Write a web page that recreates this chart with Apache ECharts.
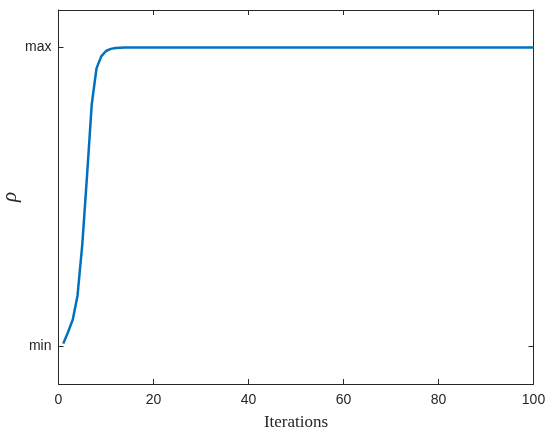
<!DOCTYPE html>
<html>
<head>
<meta charset="utf-8">
<script src="https://cdn.jsdelivr.net/npm/echarts@6/dist/echarts.min.js"></script>
<style>html,body{margin:0;padding:0;background:#fff}#c{width:550px;height:434px}</style>
</head>
<body>
<div id="c"></div>
<script>
const iterations = [];
for (let i = 1; i <= 100; i++) iterations.push(i);
const rho = [
  0.010, 0.048, 0.090, 0.170, 0.340, 0.570, 0.810, 0.930, 0.970, 0.988,
  0.995, 0.998, 0.999, 1.000, 1.000, 1.000, 1.000, 1.000, 1.000, 1.000,
  1, 1, 1, 1, 1, 1, 1, 1, 1, 1,
  1, 1, 1, 1, 1, 1, 1, 1, 1, 1,
  1, 1, 1, 1, 1, 1, 1, 1, 1, 1,
  1, 1, 1, 1, 1, 1, 1, 1, 1, 1,
  1, 1, 1, 1, 1, 1, 1, 1, 1, 1,
  1, 1, 1, 1, 1, 1, 1, 1, 1, 1,
  1, 1, 1, 1, 1, 1, 1, 1, 1, 1,
  1, 1, 1, 1, 1, 1, 1, 1, 1, 1
];
const xTicks = [0, 20, 40, 60, 80, 100];
const yTickValues = [0, 1];
const yTickLabels = ['min', 'max'];

const axisColor = '#262626';
const chart = echarts.init(document.getElementById('c'), null, {renderer: 'canvas'});
const baseX = {
  type: 'value', min: 0, max: 100, interval: 20,
  axisLine: {show: true, onZero: false, lineStyle: {color: axisColor, width: 1}},
  axisTick: {show: true, inside: true, length: 5, lineStyle: {color: axisColor}},
  splitLine: {show: false}
};
const baseY = {
  type: 'value', min: -0.125, max: 1.125,
  axisLine: {show: true, onZero: false, lineStyle: {color: axisColor, width: 1}},
  axisTick: {show: true, inside: true, length: 5, customValues: yTickValues, lineStyle: {color: axisColor}},
  splitLine: {show: false}
};
chart.setOption({
  animation: false,
  grid: {left: 58.5, top: 10, right: 16.5, bottom: 50, containLabel: false, outerBoundsMode: 'none'},
  xAxis: [
    Object.assign({}, baseX, {
      position: 'bottom',
      name: 'Iterations', nameLocation: 'middle', nameGap: 30, nameMoveOverlap: false,
      nameTextStyle: {fontFamily: 'Liberation Serif', fontSize: 17, color: axisColor},
      axisLabel: {show: true, margin: 9, fontFamily: 'Liberation Sans', fontSize: 14, color: axisColor,
        customValues: xTicks}
    }),
    Object.assign({}, baseX, {position: 'top', axisLabel: {show: false}})
  ],
  yAxis: [
    Object.assign({}, baseY, {
      position: 'left',
      name: 'ρ', nameLocation: 'middle', nameGap: 38, nameRotate: 90, nameMoveOverlap: false,
      nameTextStyle: {fontFamily: 'Liberation Serif', fontStyle: 'italic', fontSize: 21, color: axisColor},
      axisLabel: {show: true, margin: 7, fontFamily: 'Liberation Sans', fontSize: 14, color: axisColor,
        customValues: yTickValues,
        formatter: function (v) { const i = yTickValues.indexOf(v); return i >= 0 ? yTickLabels[i] : ''; }}
    }),
    Object.assign({}, baseY, {position: 'right', axisLabel: {show: false}})
  ],
  series: [{
    type: 'line',
    data: iterations.map((x, i) => [x, rho[i]]),
    showSymbol: false,
    smooth: false,
    lineStyle: {color: '#0072BD', width: 2.5},
    itemStyle: {color: '#0072BD'}
  }]
});
</script>
</body>
</html>
